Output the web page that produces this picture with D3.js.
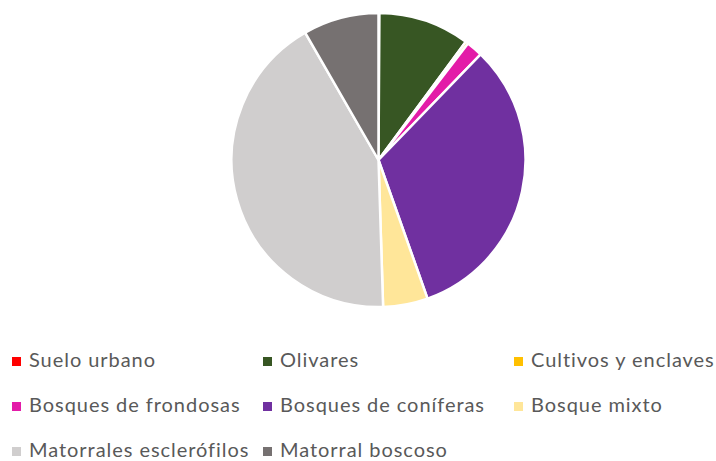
<!DOCTYPE html>
<html>
<head>
<meta charset="utf-8">
<script src="https://cdn.jsdelivr.net/npm/d3@7.9.0/dist/d3.min.js"></script>
<style>
  body { margin: 0; background: #fff; }
  svg { display: block; }
  .legend text { font-family: Lato, sans-serif; font-size: 20px; letter-spacing: 0.95px; fill: #595959; }
</style>
</head>
<body>
<svg id="chart" width="716" height="461"></svg>
<script>
const categories = ['Suelo urbano', 'Olivares', 'Cultivos y enclaves', 'Bosques de frondosas',
  'Bosques de coníferas', 'Bosque mixto', 'Matorrales esclerófilos', 'Matorral boscoso'];
const values = [0.1, 10.0, 0.3, 1.8, 32.3, 4.9, 42.1, 8.3];
const palette = ['#ff0000', '#375623', '#ffc000', '#e31ca8', '#7030a0', '#ffe699', '#d0cece', '#767171'];

const svg = d3.select('#chart');
const data = categories.map((c, i) => ({ label: c, value: values[i] }));
let color = d3.scaleOrdinal().domain(categories).range(palette);

// pie
let pie = d3.pie().sort(null).value((d) => d.value);
let arc = d3.arc().innerRadius(0).outerRadius(147);

svg.append('g')
  .attr('transform', 'translate(378.5,160)')
  .selectAll('path')
  .data(pie(data))
  .join('path')
  .attr('d', arc)
  .attr('fill', (d) => color(d.data.label))
  .attr('stroke', '#fff')
  .attr('stroke-width', 2.5)
  .attr('stroke-linejoin', 'round');

// legend, 3 columns
let legend = svg.append('g').attr('class', 'legend');
let item = legend.selectAll('g')
  .data(data)
  .join('g')
  .attr('transform', (d, i) => `translate(${12 + (i % 3) * 251},${367 + Math.floor(i / 3) * 45})`);

item.append('rect')
  .attr('x', 0).attr('y', -10)
  .attr('width', 9).attr('height', 9)
  .attr('fill', (d) => color(d.label));

item.append('text')
  .attr('x', 17).attr('y', 0)
  .text((d) => d.label);
</script>
</body>
</html>
